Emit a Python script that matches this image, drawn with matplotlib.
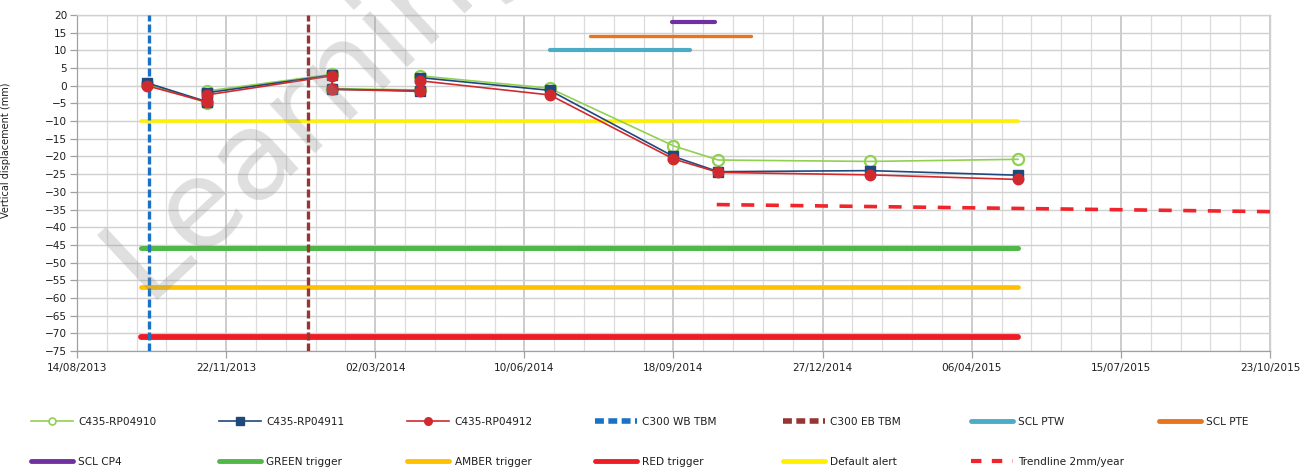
import matplotlib
matplotlib.use('Agg')
import matplotlib.pyplot as plt
import matplotlib.dates as mdates
from matplotlib.lines import Line2D
import numpy as np
from datetime import datetime

plt.rcParams['font.family'] = ['DejaVu Sans']

# ---------------- data ----------------
dates = ['2013-09-30', '2013-11-09', '2013-11-09', '2014-02-01', '2014-02-01',
         '2014-04-01', '2014-04-01', '2014-06-27', '2014-09-18', '2014-10-18',
         '2015-01-28', '2015-05-07']
rp04910 = [0.5, -4.8, -1.5, 3.2, -0.8, -1.2, 2.8, -0.7, -17.0, -21.0, -21.4, -20.8]
rp04911 = [0.8, -4.5, -2.0, 3.0, -1.0, -1.4, 2.3, -1.3, -20.0, -24.3, -24.0, -25.3]
rp04912 = [0.0, -4.6, -2.6, 2.8, -1.0, -1.6, 1.4, -2.6, -20.7, -24.5, -25.2, -26.5]

wb_tbm_date = '2013-10-01'
eb_tbm_date = '2014-01-16'

scl_ptw_dates = ['2014-06-27', '2014-09-29']
scl_ptw_value = 10
scl_pte_dates = ['2014-07-24', '2014-11-09']
scl_pte_value = 14
scl_cp4_dates = ['2014-09-17', '2014-10-16']
scl_cp4_value = 18

trigger_dates = ['2013-09-26', '2015-05-07']
green_trigger = -46
amber_trigger = -57
red_trigger = -71
default_alert = -10

trend_dates = ['2014-10-17', '2015-10-23']
trend_values = [-33.6, -35.6]

xtick_labels = ['14/08/2013', '22/11/2013', '02/03/2014', '10/06/2014', '18/09/2014',
                '27/12/2014', '06/04/2015', '15/07/2015', '23/10/2015']
ytick_values = list(range(-75, 21, 5))

# ---------------- helpers ----------------
def d(s):
    return mdates.date2num(datetime.strptime(s, '%Y-%m-%d'))

xd = [d(s) for s in dates]
xt = [mdates.date2num(datetime.strptime(s, '%d/%m/%Y')) for s in xtick_labels]

W, H = 1313, 472
fig = plt.figure(figsize=(W / 100, H / 100), dpi=100)
ax_l, ax_r, ax_t, ax_b = 77, 1270, 15, 351
ax = fig.add_axes([ax_l / W, 1 - ax_b / H, (ax_r - ax_l) / W, (ax_b - ax_t) / H])

tcol = '#1f1f1f'
fs = 7.6

# grid
ax.set_xlim(xt[0], xt[-1])
ax.set_ylim(-75, 20)
ax.set_xticks(xt)
ax.set_xticklabels(xtick_labels)
ax.set_xticks(np.arange(xt[0], xt[-1] + 1, 20), minor=True)
ax.set_yticks(ytick_values)
ax.grid(True, which='major', axis='x', color='#bfbfbf', lw=1.1, zorder=0)
ax.grid(True, which='minor', axis='x', color='#dcdcdc', lw=0.9, zorder=0)
ax.grid(True, which='major', axis='y', color='#d0d0d0', lw=1.0, zorder=0)
ax.set_axisbelow(True)
ax.tick_params(axis='both', which='major', labelsize=fs, colors='#a0a0a0',
               labelcolor=tcol, length=5, width=0.9)
ax.tick_params(axis='x', which='minor', length=0)
ax.tick_params(axis='x', pad=4)
ax.tick_params(axis='y', pad=2)
for s in ['left', 'bottom']:
    ax.spines[s].set_color('#a0a0a0')
    ax.spines[s].set_linewidth(0.9)
for s in ['top', 'right']:
    ax.spines[s].set_color('#d0d0d0')
    ax.spines[s].set_linewidth(1.0)

ax.set_ylabel('Vertical displacement (mm)', fontsize=7, color=tcol)
ax.yaxis.set_label_coords((11 - ax_l) / (ax_r - ax_l), (ax_b - 150) / (ax_b - ax_t))

# colours
c_g = '#92d050'
c_b = '#1f497d'
c_r = '#d02a2f'
c_wb = '#1b72c4'
c_eb = '#963634'
c_ptw = '#4bacc6'
c_pte = '#e8741c'
c_cp4 = '#7030a0'
c_gt = '#4fb848'
c_at = '#ffc000'
c_rt = '#ee1c25'
c_da = '#fff000'
c_tr = '#f0242a'

# horizontal trigger/alert lines
tx = [d(s) for s in trigger_dates]
ax.plot(tx, [green_trigger] * 2, color=c_gt, lw=3.6, solid_capstyle='round', zorder=3)
ax.plot(tx, [amber_trigger] * 2, color=c_at, lw=3.4, solid_capstyle='round', zorder=3)
ax.plot(tx, [red_trigger] * 2, color=c_rt, lw=4.2, solid_capstyle='round', zorder=3)
ax.plot(tx, [default_alert] * 2, color=c_da, lw=2.6, solid_capstyle='round', zorder=3)

# SCL bars
ax.plot([d(s) for s in scl_ptw_dates], [scl_ptw_value] * 2, color=c_ptw, lw=3.0,
        solid_capstyle='round', zorder=3)
ax.plot([d(s) for s in scl_pte_dates], [scl_pte_value] * 2, color=c_pte, lw=2.4,
        solid_capstyle='round', zorder=3)
ax.plot([d(s) for s in scl_cp4_dates], [scl_cp4_value] * 2, color=c_cp4, lw=3.0,
        solid_capstyle='round', zorder=3)

# trendline
ax.plot([d(s) for s in trend_dates], trend_values, color=c_tr, lw=2.6,
        dashes=(3.6, 3.2), zorder=3)

# TBM vertical lines
ax.axvline(d(wb_tbm_date), color=c_wb, lw=2.4, dashes=(2.4, 0.9), zorder=4)
ax.axvline(d(eb_tbm_date), color=c_eb, lw=2.4, dashes=(2.4, 0.9), zorder=4)

# series
ax.plot(xd, rp04910, color=c_g, lw=1.2, marker='o', ms=8, mfc='none', mec=c_g,
        mew=1.6, zorder=5)
ax.plot(xd, rp04911, color=c_b, lw=1.2, marker='s', ms=6.5, mfc=c_b, mec=c_b, zorder=6)
ax.plot(xd, rp04912, color=c_r, lw=1.2, marker='o', ms=7.5, mfc=c_r, mec=c_r, zorder=7)

# ---------------- legend ----------------
row1 = [
    (Line2D([], [], color=c_g, lw=1.2, marker='o', ms=5, mfc='white', mec=c_g, mew=1.2), 'C435-RP04910'),
    (Line2D([], [], color=c_b, lw=1.2, marker='s', ms=5.5, mfc=c_b, mec=c_b), 'C435-RP04911'),
    (Line2D([], [], color=c_r, lw=1.2, marker='o', ms=5.5, mfc=c_r, mec=c_r), 'C435-RP04912'),
    (Line2D([], [], color=c_wb, lw=4, dashes=(1.6, 0.8)), 'C300 WB TBM'),
    (Line2D([], [], color=c_eb, lw=4, dashes=(1.6, 0.8)), 'C300 EB TBM'),
    (Line2D([], [], color=c_ptw, lw=3.5, solid_capstyle='round'), 'SCL PTW'),
    (Line2D([], [], color=c_pte, lw=3.5, solid_capstyle='round'), 'SCL PTE'),
]
row2 = [
    (Line2D([], [], color=c_cp4, lw=3.5, solid_capstyle='round'), 'SCL CP4'),
    (Line2D([], [], color=c_gt, lw=3.5, solid_capstyle='round'), 'GREEN trigger'),
    (Line2D([], [], color=c_at, lw=3.5, solid_capstyle='round'), 'AMBER trigger'),
    (Line2D([], [], color=c_rt, lw=3.5, solid_capstyle='round'), 'RED trigger'),
    (Line2D([], [], color=c_da, lw=3.5, solid_capstyle='round'), 'Default alert'),
    (Line2D([], [], color=c_tr, lw=3.0, dashes=(2.5, 2.5)), 'Trendline 2mm/year'),
]
for r, (row, ypx) in enumerate([(row1, 422), (row2, 462)]):
    for i, (h, lab) in enumerate(row):
        xpx = 31 + 188 * i
        leg = fig.legend(handles=[h], labels=[lab], loc='center left',
                         bbox_to_anchor=(xpx / W, 1 - ypx / H), frameon=False,
                         fontsize=fs, handlelength=4.0, handletextpad=0.5,
                         borderpad=0, borderaxespad=0, labelcolor=tcol)

# watermark
fig.text(146 / W, 1 - 300 / H, 'Learning', rotation=43, rotation_mode='anchor',
         ha='left', va='baseline', fontsize=88, color='#8c8c8c', alpha=0.28,
         zorder=20)

fig.savefig('out.png', dpi=100)
